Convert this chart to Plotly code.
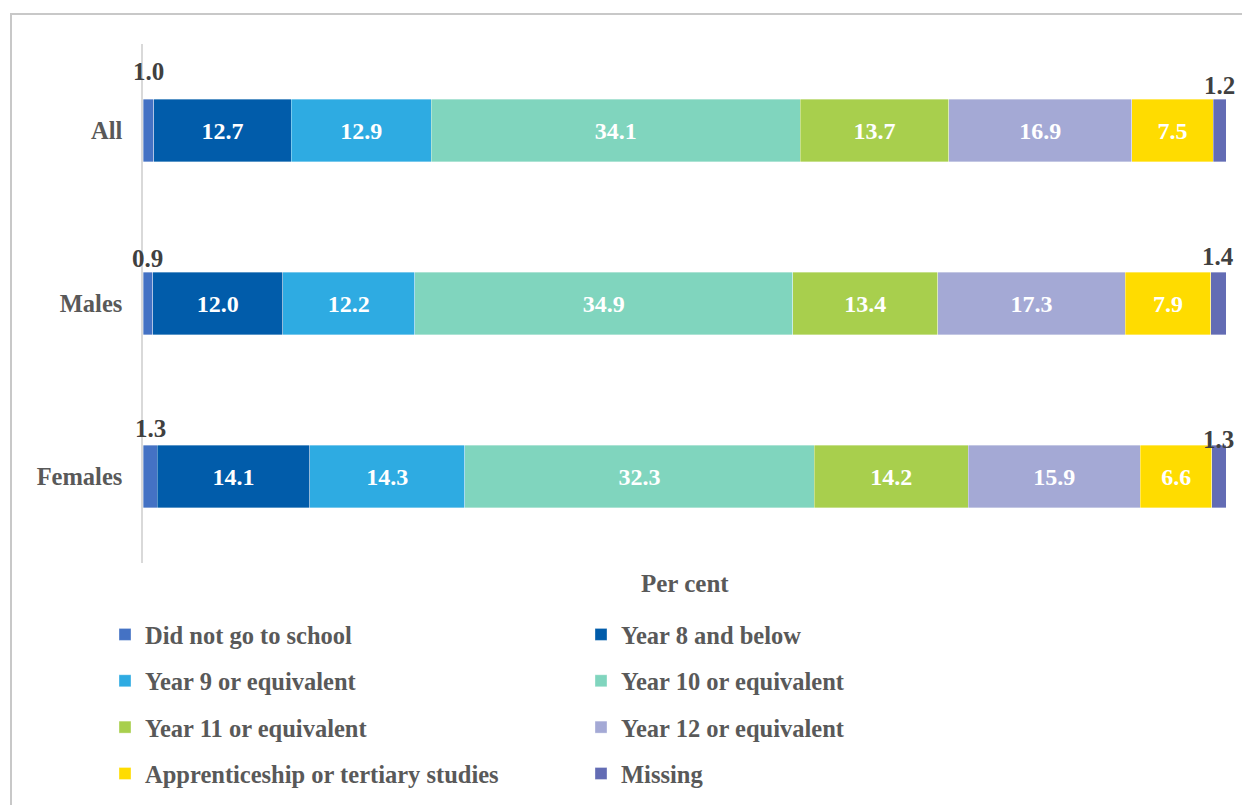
import plotly.graph_objects as go

categories = ["All", "Males", "Females"]
series_names = [
    "Did not go to school",
    "Year 8 and below",
    "Year 9 or equivalent",
    "Year 10 or equivalent",
    "Year 11 or equivalent",
    "Year 12 or equivalent",
    "Apprenticeship or tertiary studies",
    "Missing",
]
did_not_go = [1.0, 0.9, 1.3]
year8 = [12.7, 12.0, 14.1]
year9 = [12.9, 12.2, 14.3]
year10 = [34.1, 34.9, 32.3]
year11 = [13.7, 13.4, 14.2]
year12 = [16.9, 17.3, 15.9]
apprentice = [7.5, 7.9, 6.6]
missing = [1.2, 1.4, 1.3]

series_values = [did_not_go, year8, year9, year10, year11, year12, apprentice, missing]
colors = ["#4472C4", "#015CAA", "#2EABE2", "#80D5BE", "#A8CF4D", "#A4A9D5", "#FFDC00", "#636CB4"]
outside_label_series = {0, 7}

FONT = "Liberation Serif"
GRAY = "#595959"
DARK = "#404040"

fig = go.Figure()
for i, (name, vals) in enumerate(zip(series_names, series_values)):
    inside = i not in outside_label_series
    fig.add_trace(go.Bar(
        y=categories, x=vals, name=name, orientation="h",
        marker=dict(color=colors[i], line=dict(color="rgba(255,255,255,0.5)", width=0.7)),
        text=[f"{v:.1f}" for v in vals] if inside else None,
        textposition="inside" if inside else "none",
        insidetextanchor="middle",
        textfont=dict(family=FONT, size=24, color="white", weight="bold"),
        width=0.36,
        legend="legend" if i % 2 == 0 else "legend2",
        legendgroup=name,
        hoverinfo="skip",
    ))

# outside labels for the thin segments
shifts = {(0, 0): 59, (0, 1): 45, (0, 2): 48, (7, 0): 45, (7, 1): 47, (7, 2): 37}
for i in outside_label_series:
    for j, cat in enumerate(categories):
        start = sum(series_values[k][j] for k in range(i))
        mid = start + series_values[i][j] / 2
        fig.add_annotation(
            x=mid, y=cat, xref="x", yref="y", text=f"<b>{series_values[i][j]:.1f}</b>",
            showarrow=False, yshift=shifts[(i, j)], yanchor="middle",
            font=dict(family=FONT, size=25, color=DARK),
        )

fig.add_annotation(x=0.5, y=0, xref="paper", yref="paper", text="<b>Per cent</b>",
                   showarrow=False, yanchor="top", yshift=-5,
                   font=dict(family=FONT, size=25, color=GRAY))

# outer frame
L, R, T, B = 143, 16, 44, 242
PW, PH = 1242 - L - R, 805 - T - B
fig.add_shape(type="rect", xref="paper", yref="paper",
              x0=(11 - L) / PW, x1=(1260 - L) / PW,
              y0=(805 - B - 830) / PH, y1=(805 - B - 14) / PH,
              line=dict(color="#C8C8C8", width=2), fillcolor="rgba(0,0,0,0)", layer="below")

legend_common = dict(
    orientation="v", xref="container", yref="container", yanchor="top", xanchor="left",
    font=dict(family=FONT, size=24.5, color=GRAY, weight="bold"),
    bgcolor="rgba(0,0,0,0)", tracegroupgap=11.5, itemwidth=30, traceorder="grouped",
    itemclick=False, itemdoubleclick=False,
)

fig.update_layout(
    width=1242, height=805,
    margin=dict(l=L, r=R, t=T, b=B, autoexpand=False),
    barmode="stack",
    plot_bgcolor="white", paper_bgcolor="white",
    showlegend=True,
    legend=dict(x=105 / 1242, y=1 - 612 / 805, **legend_common),
    legend2=dict(x=581 / 1242, y=1 - 612 / 805, **legend_common),
    xaxis=dict(range=[0, 100], showticklabels=False, showgrid=False, zeroline=False,
               showline=False, ticks="", fixedrange=True),
    yaxis=dict(autorange="reversed", showgrid=False, zeroline=False, showline=True,
               linecolor="#D9D9D9", linewidth=1.5, ticks="", ticklabelstandoff=14,
               tickfont=dict(family=FONT, size=24.5, color=GRAY, weight="bold"), fixedrange=True),
    uniformtext=dict(mode="show", minsize=10),
)

fig.write_html("out.html", post_script="document.body.style.margin='0';",
               config={"displayModeBar": False})
